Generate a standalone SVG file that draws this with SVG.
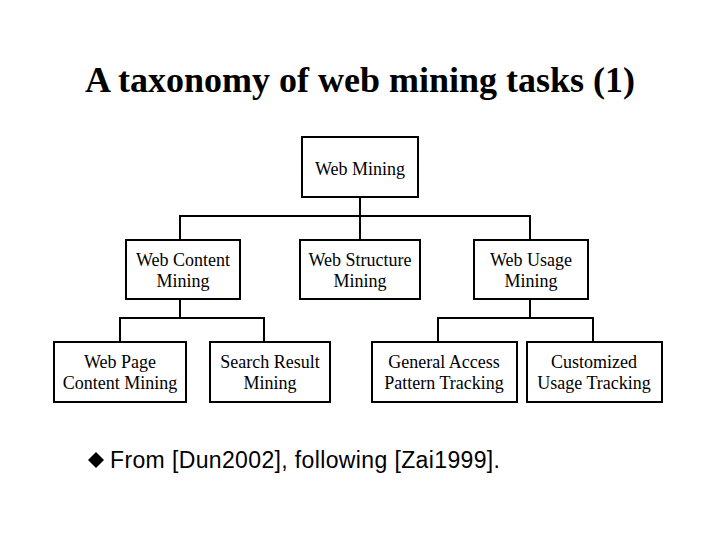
<svg xmlns="http://www.w3.org/2000/svg" width="720" height="540" viewBox="0 0 720 540">
<style>
.box{fill:#fff;stroke:#000;stroke-width:2}
.ln{fill:none;stroke:#000;stroke-width:2}
.t{font-family:"Liberation Serif","Times New Roman",serif;font-size:18px;text-anchor:middle;fill:#000}
.title{font-family:"Liberation Serif","Times New Roman",serif;font-size:36px;font-weight:bold;fill:#000}
.foot{font-family:"Liberation Sans",Arial,sans-serif;font-size:23px;fill:#000}
</style>
<rect width="720" height="540" fill="#fff"/>
<text class="title" x="85" y="92" textLength="550" lengthAdjust="spacing">A taxonomy of web mining tasks (1)</text>
<g id="connectors">
<path class="ln" d="M360,197 V240 M180,240 V216 H530 V240"/>
<path class="ln" d="M180,299 V318 M120,342 V318 H264 V342"/>
<path class="ln" d="M530,299 V318 M438,342 V318 H593 V342"/>
</g>
<g id="web-mining"><rect class="box" x="302" y="137" width="116" height="60"/><text class="t" x="360" y="175">Web Mining</text></g>
<g id="web-content"><rect class="box" x="126" y="240" width="114" height="59"/><text class="t" x="183" y="266">Web Content</text><text class="t" x="183" y="287">Mining</text></g>
<g id="web-structure"><rect class="box" x="300" y="240" width="120" height="59"/><text class="t" x="360" y="266">Web Structure</text><text class="t" x="360" y="287">Mining</text></g>
<g id="web-usage"><rect class="box" x="474" y="240" width="114" height="59"/><text class="t" x="531" y="266">Web Usage</text><text class="t" x="531" y="287">Mining</text></g>
<g id="web-page"><rect class="box" x="54" y="342" width="132" height="60"/><text class="t" x="120" y="368">Web Page</text><text class="t" x="120" y="389">Content Mining</text></g>
<g id="search-result"><rect class="box" x="210" y="342" width="120" height="60"/><text class="t" x="270" y="368">Search Result</text><text class="t" x="270" y="389">Mining</text></g>
<g id="general-access"><rect class="box" x="372" y="342" width="145" height="60"/><text class="t" x="444" y="368">General Access</text><text class="t" x="444" y="389">Pattern Tracking</text></g>
<g id="customized"><rect class="box" x="527" y="342" width="135" height="60"/><text class="t" x="594" y="368">Customized</text><text class="t" x="594" y="389">Usage Tracking</text></g>
<path d="M96,452 L104,460 L96,468 L88,460 Z" fill="#000"/>
<text class="foot" x="110" y="468" textLength="390" lengthAdjust="spacing">From [Dun2002], following [Zai1999].</text>
</svg>
